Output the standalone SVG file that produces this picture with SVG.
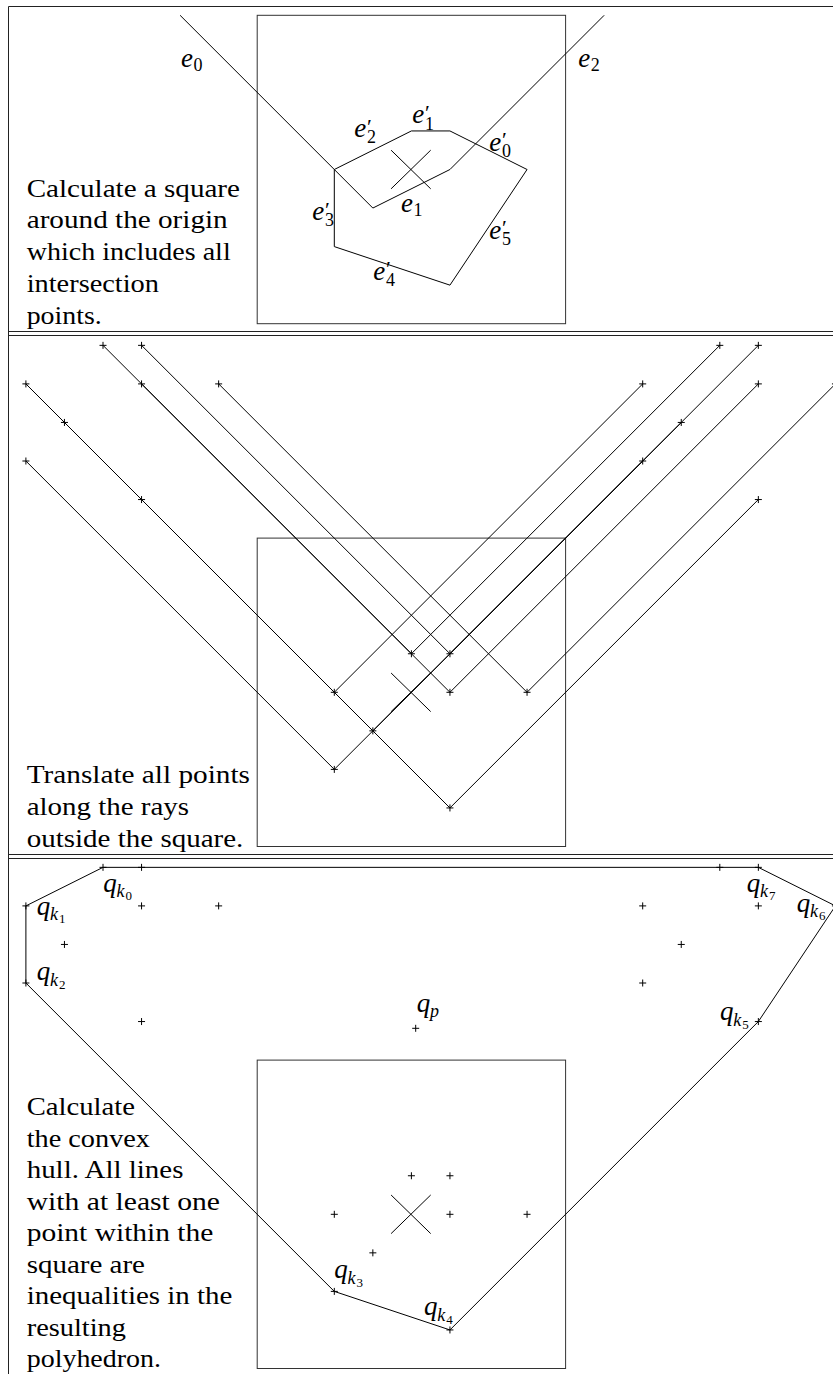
<svg xmlns="http://www.w3.org/2000/svg" xmlns:xlink="http://www.w3.org/1999/xlink" width="833" height="1374" viewBox="0 0 833 1374">
<style>
.ln{fill:none;stroke:#000;stroke-width:1}
.fr{fill:none;stroke:#222;stroke-width:1}
.sq{fill:none;stroke:#333;stroke-width:1}
.tx{font-family:"Liberation Serif",serif;font-size:26px;fill:#000}
.mi{font-family:"Liberation Serif",serif;font-style:italic;font-size:27px;fill:#000}
.sb{font-style:normal;font-size:18px}
.sbi{font-style:italic;font-size:18px}
.ss{font-style:normal;font-size:13px}
.pr{font-style:normal;font-size:22px}
</style>
<defs>
<path id="p" d="M-3.5,0H3.5M0,-3.5V3.5" stroke="#000" stroke-width="1" fill="none"/>
</defs>

<g id="frame">
<path class="fr" d="M8.5,6.5H833M8.5,6.5V1374M8.5,331.5H833M8.5,335.5H833M8.5,854.5H833M8.5,858.5H833"/>
</g>

<!-- Panel 1 -->
<g id="panel1">
<rect class="sq" x="257.2" y="15.3" width="308.4" height="308.4"/>
<path class="ln" d="M391.1,150.2L430.7,188.8M391.1,188.8L430.7,150.2"/>
<polyline class="ln" points="180.1,15.3 372.85,208.05 449.95,169.5 604.15,15.3"/>
<polygon class="ln" points="334.3,169.5 411.4,130.95 449.95,130.95 527.05,169.5 449.95,285.15 334.3,246.6"/>
<g id="labels1">
<text class="mi" x="181" y="67">e<tspan class="sb" x="193.5" y="70.5">0</tspan></text>
<text class="mi" x="578.3" y="67">e<tspan class="sb" x="590.8" y="70.5">2</tspan></text>
<text class="mi" x="401" y="212">e<tspan class="sb" x="413.5" y="215.5">1</tspan></text>
<text class="mi" x="412.3" y="123.3">e<tspan class="pr" x="425" y="120">′</tspan><tspan class="sb" x="425" y="129.5">1</tspan></text>
<text class="mi" x="354.3" y="137">e<tspan class="pr" x="367" y="133.7">′</tspan><tspan class="sb" x="367" y="143.2">2</tspan></text>
<text class="mi" x="489.3" y="150.5">e<tspan class="pr" x="502" y="147.2">′</tspan><tspan class="sb" x="502" y="156.7">0</tspan></text>
<text class="mi" x="312.3" y="220">e<tspan class="pr" x="325" y="216.7">′</tspan><tspan class="sb" x="325" y="226.2">3</tspan></text>
<text class="mi" x="373.3" y="279.5">e<tspan class="pr" x="386" y="276.2">′</tspan><tspan class="sb" x="386" y="285.7">4</tspan></text>
<text class="mi" x="489.3" y="238.5">e<tspan class="pr" x="502" y="235.2">′</tspan><tspan class="sb" x="502" y="244.7">5</tspan></text>
</g>
<g id="text1">
<text class="tx" x="26.7" y="196.5" textLength="213.3" lengthAdjust="spacingAndGlyphs">Calculate a square</text>
<text class="tx" x="26.7" y="228.3" textLength="201" lengthAdjust="spacingAndGlyphs">around the origin</text>
<text class="tx" x="26.7" y="260" textLength="204" lengthAdjust="spacingAndGlyphs">which includes all</text>
<text class="tx" x="26.7" y="291.7" textLength="132.3" lengthAdjust="spacingAndGlyphs">intersection</text>
<text class="tx" x="26.7" y="323.8" textLength="75" lengthAdjust="spacingAndGlyphs">points.</text>
</g>
</g>

<!-- Panel 2 -->
<g id="panel2">
<rect class="sq" x="257.2" y="538.1" width="308.4" height="308.4"/>
<path class="ln" d="M391.1,673L430.7,711.6M391.1,711.6L430.7,673"/>
<g id="rays2">
<polyline class="ln" points="25.9,383.9 334.3,692.3 642.7,383.9"/>
<polyline class="ln" points="103,345.35 411.4,653.75 719.8,345.35"/>
<polyline class="ln" points="141.55,345.35 449.95,653.75 758.35,345.35"/>
<polyline class="ln" points="218.65,383.9 527.05,692.3 835.45,383.9"/>
<polyline class="ln" points="141.55,499.55 449.95,807.95 758.35,499.55"/>
<polyline class="ln" points="25.9,461 334.3,769.4 642.7,461"/>
<polyline class="ln" points="64.45,422.45 372.85,730.85 681.25,422.45"/>
<polyline class="ln" points="141.55,383.9 449.95,692.3 758.35,383.9"/>
</g>
<g id="pts2">
<use href="#p" x="334.3" y="692.3"/><use href="#p" x="411.4" y="653.75"/><use href="#p" x="449.95" y="653.75"/><use href="#p" x="527.05" y="692.3"/>
<use href="#p" x="449.95" y="807.95"/><use href="#p" x="334.3" y="769.4"/><use href="#p" x="372.85" y="730.85"/><use href="#p" x="449.95" y="692.3"/>
<use href="#p" x="25.9" y="383.9"/><use href="#p" x="103" y="345.35"/><use href="#p" x="141.55" y="345.35"/><use href="#p" x="218.65" y="383.9"/>
<use href="#p" x="141.55" y="499.55"/><use href="#p" x="25.9" y="461"/><use href="#p" x="64.45" y="422.45"/><use href="#p" x="141.55" y="383.9"/>
<use href="#p" x="642.7" y="383.9"/><use href="#p" x="719.8" y="345.35"/><use href="#p" x="758.35" y="345.35"/><use href="#p" x="835.45" y="383.9"/>
<use href="#p" x="758.35" y="499.55"/><use href="#p" x="642.7" y="461"/><use href="#p" x="681.25" y="422.45"/><use href="#p" x="758.35" y="383.9"/>
</g>
<g id="text2">
<text class="tx" x="26.7" y="783.3" textLength="223.3" lengthAdjust="spacingAndGlyphs">Translate all points</text>
<text class="tx" x="26.7" y="815" textLength="162.3" lengthAdjust="spacingAndGlyphs">along the rays</text>
<text class="tx" x="26.7" y="846.7" textLength="216.7" lengthAdjust="spacingAndGlyphs">outside the square.</text>
</g>
</g>

<!-- Panel 3 -->
<g id="panel3">
<rect class="sq" x="257.2" y="1060.1" width="308.4" height="308.4"/>
<path class="ln" d="M391.1,1195L430.7,1233.6M391.1,1233.6L430.7,1195"/>
<polygon id="hull" class="ln" points="103,867.35 758.35,867.35 835.45,905.9 758.35,1021.55 449.95,1329.95 334.3,1291.4 25.9,983 25.9,905.9"/>
<g id="pts3">
<use href="#p" x="334.3" y="1214.3"/><use href="#p" x="411.4" y="1175.75"/><use href="#p" x="449.95" y="1175.75"/><use href="#p" x="527.05" y="1214.3"/>
<use href="#p" x="449.95" y="1329.95"/><use href="#p" x="334.3" y="1291.4"/><use href="#p" x="372.85" y="1252.85"/><use href="#p" x="449.95" y="1214.3"/>
<use href="#p" x="25.9" y="905.9"/><use href="#p" x="103" y="867.35"/><use href="#p" x="141.55" y="867.35"/><use href="#p" x="218.65" y="905.9"/>
<use href="#p" x="141.55" y="1021.55"/><use href="#p" x="25.9" y="983"/><use href="#p" x="64.45" y="944.45"/><use href="#p" x="141.55" y="905.9"/>
<use href="#p" x="642.7" y="905.9"/><use href="#p" x="719.8" y="867.35"/><use href="#p" x="758.35" y="867.35"/><use href="#p" x="835.45" y="905.9"/>
<use href="#p" x="758.35" y="1021.55"/><use href="#p" x="642.7" y="983"/><use href="#p" x="681.25" y="944.45"/><use href="#p" x="758.35" y="905.9"/>
<use href="#p" x="415.7" y="1028.3"/>
</g>
<g id="labels3">
<text class="mi" x="103.3" y="891.5">q<tspan class="sbi" x="116.5" y="897">k</tspan><tspan class="ss" x="125.5" y="900">0</tspan></text>
<text class="mi" x="36.7" y="914.7">q<tspan class="sbi" x="49.9" y="920.2">k</tspan><tspan class="ss" x="58.9" y="923.2">1</tspan></text>
<text class="mi" x="36.7" y="980">q<tspan class="sbi" x="49.9" y="985.5">k</tspan><tspan class="ss" x="58.9" y="988.5">2</tspan></text>
<text class="mi" x="416.7" y="1011.5">q<tspan class="sbi" x="429.9" y="1017">p</tspan></text>
<text class="mi" x="746.7" y="891.5">q<tspan class="sbi" x="759.9" y="897">k</tspan><tspan class="ss" x="768.9" y="900">7</tspan></text>
<text class="mi" x="796.7" y="911.5">q<tspan class="sbi" x="809.9" y="917">k</tspan><tspan class="ss" x="818.9" y="920">6</tspan></text>
<text class="mi" x="720" y="1020">q<tspan class="sbi" x="733.2" y="1025.5">k</tspan><tspan class="ss" x="742.2" y="1028.5">5</tspan></text>
<text class="mi" x="334.3" y="1278">q<tspan class="sbi" x="347.5" y="1283.5">k</tspan><tspan class="ss" x="356.5" y="1286.5">3</tspan></text>
<text class="mi" x="424" y="1315">q<tspan class="sbi" x="437.2" y="1320.5">k</tspan><tspan class="ss" x="446.2" y="1323.5">4</tspan></text>
</g>
<g id="text3">
<text class="tx" x="26.7" y="1114.5" textLength="108.3" lengthAdjust="spacingAndGlyphs">Calculate</text>
<text class="tx" x="26.7" y="1146.5" textLength="123.3" lengthAdjust="spacingAndGlyphs">the convex</text>
<text class="tx" x="26.7" y="1178.3" textLength="156.7" lengthAdjust="spacingAndGlyphs">hull. All lines</text>
<text class="tx" x="26.7" y="1209.5" textLength="193.3" lengthAdjust="spacingAndGlyphs">with at least one</text>
<text class="tx" x="26.7" y="1241" textLength="186.7" lengthAdjust="spacingAndGlyphs">point within the</text>
<text class="tx" x="26.7" y="1272.5" textLength="118.3" lengthAdjust="spacingAndGlyphs">square are</text>
<text class="tx" x="26.7" y="1304" textLength="205.7" lengthAdjust="spacingAndGlyphs">inequalities in the</text>
<text class="tx" x="26.7" y="1335.5" textLength="99.3" lengthAdjust="spacingAndGlyphs">resulting</text>
<text class="tx" x="26.7" y="1367" textLength="134.3" lengthAdjust="spacingAndGlyphs">polyhedron.</text>
</g>
</g>
</svg>
